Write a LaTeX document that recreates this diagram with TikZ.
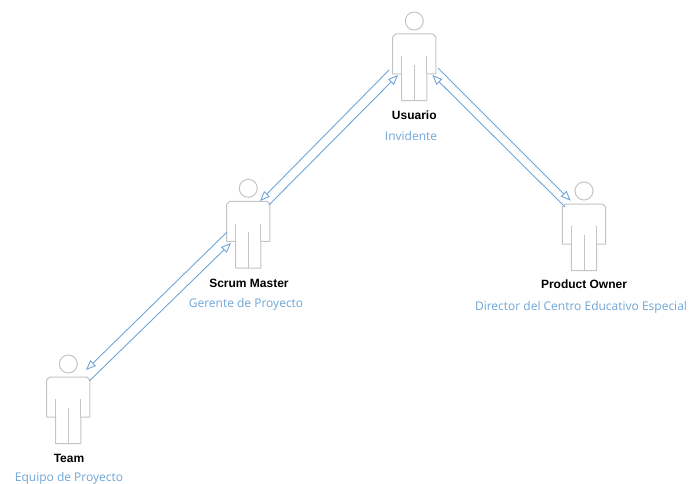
\documentclass[tikz,border=0pt]{standalone}
\usepackage{fontspec}
\usepackage[dvipsnames]{xcolor}
\usetikzlibrary{arrows.meta}
\setmainfont{Liberation Sans}
\newfontfamily\rolefont{Open Sans}
\definecolor{linkblue}{HTML}{6FA5D8}
\definecolor{rolegray}{HTML}{C4C4C4}

\tikzset{
    actor/.pic={
        \draw[rolegray, line width=1pt] (0,-35.4) circle (9);
        \draw[rolegray, line width=1pt, line join=round] (-12.6,44.3) -- (-12.6,17.6) -- (-21.6,17.6) -- (-21.6,-19.4) -- (-18.6,-22.4) -- (18.6,-22.4) -- (21.6,-19.4) -- (21.6,17.6) -- (12.6,17.6) -- (12.6,44.3) -- cycle;
        \draw[rolegray, line width=1pt] (-12.6,0) -- (-12.6,17.6);
        \draw[rolegray, line width=1pt] (12.6,0) -- (12.6,17.6);
        \draw[rolegray, line width=1pt] (0,8.6) -- (0,44.3);
    }
}

\begin{document}
\begin{tikzpicture}[x=1pt,y=-1pt,>={Triangle[open,length=10pt,width=8pt]},
    main node/.style={rectangle,minimum width=44pt,minimum height=88pt,inner sep=0pt},
    name node/.style={font=\bfseries\fontsize{12}{14}\selectfont,inner sep=0pt},
    role node/.style={font=\rolefont\fontsize{12}{14}\selectfont,text=linkblue,inner sep=0pt},
    link/.style={draw=linkblue,line width=0.9pt}]

            \useasboundingbox (0,0) rectangle (699,484);

            \node[main node] (usuario) at (414.3,56.4) {};
            \node[main node] (scrum) at (248.3,223.7) {};
            \node[main node] (product) at (584,226.4) {};
            \node[main node] (team) at (68.3,399.4) {};

            \pic at (usuario) {actor};
            \pic at (scrum) {actor};
            \pic at (product) {actor};
            \pic at (team) {actor};

            \node[name node] (usuario name) at (414.3,115) {Usuario};
            \node[name node] (scrum name) at (249,283) {Scrum Master};
            \node[name node] (product name) at (584,284) {Product Owner};
            \node[name node] (team name) at (69,458) {Team};

            \node[role node] (usuario role) at (411,136) {Invidente};
            \node[role node] (scrum role) at (246,304) {Gerente de Proyecto};
            \node[role node] (product role) at (581,307) {Director del Centro Educativo Especial};
            \node[role node] (team role) at (69,478) {Equipo de Proyecto};

            \draw[link,->] ([shift={(-25.3,13.6)}]usuario.center) to ([shift={(11.7,-22.7)}]scrum.center);
            \draw[link,->] ([shift={(20.7,-18.7)}]scrum.center) to ([shift={(-16.3,18.6)}]usuario.center);
            \draw[link,->] ([shift={(-21.3,8.3)}]scrum.center) to ([shift={(17.7,-29.4)}]team.center);
            \draw[link,->] ([shift={(21,-18.4)}]team.center) to ([shift={(-17.3,19.3)}]scrum.center);
            \draw[link,->] ([shift={(23.7,11.6)}]usuario.center) to ([shift={(-13.3,-25.7)}]product.center);
            \draw[link,->] ([shift={(-19,-19.4)}]product.center) to ([shift={(18,18.6)}]usuario.center);

            ;
        \end{tikzpicture}
\end{document}
